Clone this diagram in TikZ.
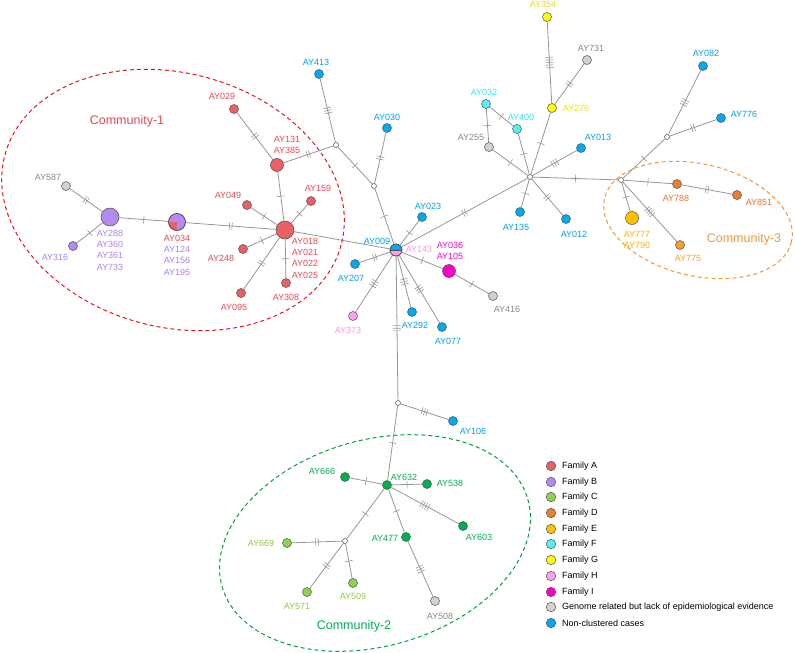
\documentclass[tikz,border=0pt]{standalone}
\usepackage{fontspec}
\setmainfont{Liberation Sans}
\usetikzlibrary{decorations.markings,backgrounds}
\definecolor{cA}{RGB}{234,96,100}
\definecolor{cB}{RGB}{180,138,240}
\definecolor{cC}{RGB}{146,208,80}
\definecolor{cD}{RGB}{237,125,49}
\definecolor{cE}{RGB}{255,192,0}
\definecolor{cF}{RGB}{85,240,240}
\definecolor{cG}{RGB}{255,255,0}
\definecolor{cH}{RGB}{255,160,235}
\definecolor{cI}{RGB}{255,0,200}
\definecolor{cGr}{RGB}{210,210,210}
\definecolor{cBl}{RGB}{0,170,240}
\definecolor{cDG}{RGB}{0,176,80}
\definecolor{cAE}{RGB}{245,160,40}
\definecolor{lA}{RGB}{232,72,82}
\definecolor{lB}{RGB}{172,128,240}
\definecolor{lC}{RGB}{140,200,70}
\definecolor{lD}{RGB}{232,112,42}
\definecolor{lE}{RGB}{250,180,0}
\definecolor{lF}{RGB}{50,228,235}
\definecolor{lG}{RGB}{228,228,0}
\definecolor{lH}{RGB}{255,150,235}
\definecolor{lI}{RGB}{255,0,200}
\definecolor{lGr}{RGB}{135,135,135}
\definecolor{lBl}{RGB}{0,160,235}
\definecolor{lDG}{RGB}{0,176,80}
\definecolor{edc}{RGB}{150,150,150}
\definecolor{ndb}{RGB}{80,80,80}
\definecolor{comA}{RGB}{228,20,30}
\definecolor{comB}{RGB}{0,160,60}
\definecolor{comC}{RGB}{245,150,50}
\tikzset{
  nd/.style={circle, draw=ndb, line width=0.5pt, inner sep=0pt, minimum size=9pt},
  hid/.style={circle, draw=ndb, fill=white, line width=0.5pt, inner sep=0pt, minimum size=5pt},
  lb/.style={font=\fontsize{9}{11.3}\selectfont, inner sep=0pt, align=center},
  comlb/.style={font=\fontsize{12.5}{14}\selectfont, inner sep=0pt},
  ed/.style={draw=edc, line width=0.8pt},
  tk/.style={postaction={decorate, decoration={markings, mark=at position 0.5 with {\foreach \i in {1,...,#1}{\draw[edc, line width=0.6pt] ({(\i-(#1+1)/2)*2.6},-3.8) -- ({(\i-(#1+1)/2)*2.6},3.8);}}}}},
  comm/.style={dashed, line width=1pt, dash pattern=on 4pt off 3pt},
  lgc/.style={circle, draw=ndb, line width=0.5pt, inner sep=0pt, minimum size=9.5pt},
  lgt/.style={font=\fontsize{9}{10}\selectfont, inner sep=0pt, anchor=west}
}
\begin{document}
\begin{tikzpicture}[x=1pt,y=-1pt]
\useasboundingbox (0,0) rectangle (796,653);
% community ellipses
\coordinate (c1) at (173,200);
\coordinate (c2) at (375,543);
\coordinate (c3) at (698,220);
\draw[comm, comA, rotate around={-15:(c1)}] (c1) ellipse [x radius=174, y radius=127];
\draw[comm, comB, rotate around={16:(c2)}] (c2) ellipse [x radius=159, y radius=103];
\draw[comm, comC, rotate around={-13:(c3)}] (c3) ellipse [x radius=96, y radius=56];
\node[comlb, text=lA] (com1) at (127,121) {Community-1};
\node[comlb, text=lDG] (com2) at (354,626) {Community-2};
\node[comlb, text=comC] (com3) at (744,239) {Community-3};

% nodes: community 1
\node[nd,fill=cGr] (AY587) at (66,186) {};
\node[nd,fill=cB,minimum size=18pt] (AY288) at (110,217) {};
\node[nd,fill=cB] (AY316) at (73,246) {};
\node[nd,fill=cB,minimum size=17pt,path picture={\fill[cA] (path picture bounding box.center) rectangle (path picture bounding box.south west);}] (AY034) at (177,222) {};
\draw[ndb, line width=0.5pt] (AY034) circle (8.5pt);
\node[nd,fill=cA,minimum size=18pt] (AY018) at (285,230) {};
\node[nd,fill=cA,minimum size=13pt] (AY131) at (277,165) {};
\node[nd,fill=cA] (AY029) at (234,109) {};
\node[nd,fill=cA] (AY049) at (247,205) {};
\node[nd,fill=cA] (AY159) at (311,201) {};
\node[nd,fill=cA] (AY248) at (243,249) {};
\node[nd,fill=cA] (AY308) at (286,283) {};
\node[nd,fill=cA] (AY095) at (241,293) {};
% centre
\node[hid] (h1) at (336,145) {};
\node[hid] (h2) at (374,186) {};
\node[nd,fill=cBl] (AY413) at (319,74) {};
\node[nd,fill=cBl] (AY030) at (387,128) {};
\node[nd,fill=cH,minimum size=12pt,path picture={\fill[cBl] (path picture bounding box.north west) rectangle (path picture bounding box.east); \draw[ndb,line width=0.5pt] (path picture bounding box.west) -- (path picture bounding box.east);}] (AY009) at (396,250) {};
\draw[ndb, line width=0.5pt] (AY009) circle (6pt);
\node[nd,fill=cBl] (AY023) at (422,217) {};
\node[nd,fill=cI,minimum size=13pt] (AY036) at (449,271) {};
\node[nd,fill=cGr] (AY416) at (493,296) {};
\node[nd,fill=cBl] (AY292) at (412,312) {};
\node[nd,fill=cBl] (AY077) at (442,327) {};
\node[nd,fill=cBl] (AY207) at (355,264) {};
\node[nd,fill=cH] (AY373) at (353,316) {};
\node[hid] (h3) at (398,403) {};
\node[nd,fill=cBl] (AY106) at (453,421) {};
% community 2
\node[nd,fill=cDG] (AY632) at (387,485) {};
\node[nd,fill=cDG] (AY666) at (345,477) {};
\node[nd,fill=cDG] (AY538) at (427,484) {};
\node[nd,fill=cDG] (AY603) at (463,526) {};
\node[nd,fill=cDG] (AY477) at (406,537) {};
\node[nd,fill=cGr] (AY508) at (435,601) {};
\node[hid] (h4) at (345,541) {};
\node[nd,fill=cC] (AY669) at (287,543) {};
\node[nd,fill=cC] (AY571) at (307,592) {};
\node[nd,fill=cC] (AY509) at (353,583) {};
% right part
\node[hid] (h5) at (530,177) {};
\node[nd,fill=cGr] (AY255) at (489,147) {};
\node[nd,fill=cF] (AY032) at (486,104) {};
\node[nd,fill=cF] (AY400) at (517,129) {};
\node[nd,fill=cG] (AY276) at (552,108) {};
\node[nd,fill=cG] (AY354) at (547,17) {};
\node[nd,fill=cGr] (AY731) at (587,60) {};
\node[nd,fill=cBl] (AY013) at (581,148) {};
\node[nd,fill=cBl] (AY135) at (520,212) {};
\node[nd,fill=cBl] (AY012) at (566,219) {};
\node[hid] (h6) at (621,180) {};
\node[hid] (h7) at (667,137) {};
\node[nd,fill=cBl] (AY082) at (703,66) {};
\node[nd,fill=cBl] (AY776) at (721,118) {};
\node[nd,fill=cD] (AY788) at (677,184) {};
\node[nd,fill=cD] (AY851) at (737,195) {};
\node[nd,fill=cE,minimum size=13pt] (AY777) at (632,218) {};
\node[nd,fill=cAE] (AY775) at (680,245) {};

% edges
\begin{scope}[on background layer]
\draw[ed,tk=2] (AY587) -- (AY288);
\draw[ed,tk=1] (AY316) -- (AY288);
\draw[ed,tk=1] (AY288) -- (AY034);
\draw[ed,tk=2] (AY034) -- (AY018);
\draw[ed,tk=1] (AY018) -- (AY049);
\draw[ed,tk=1] (AY018) -- (AY159);
\draw[ed,tk=1] (AY018) -- (AY248);
\draw[ed,tk=1] (AY018) -- (AY308);
\draw[ed,tk=2] (AY018) -- (AY095);
\draw[ed,tk=1] (AY018) -- (AY131);
\draw[ed,tk=2] (AY131) -- (AY029);
\draw[ed,tk=2] (AY131) -- (h1);
\draw[ed,tk=3] (h1) -- (AY413);
\draw[ed,tk=1] (h1) -- (h2);
\draw[ed,tk=2] (h2) -- (AY030);
\draw[ed,tk=1] (h2) -- (AY009);
\draw[ed] (AY018) -- (AY009);
\draw[ed,tk=1] (AY009) -- (AY023);
\draw[ed,tk=2] (AY009) -- (AY207);
\draw[ed,tk=3] (AY009) -- (AY373);
\draw[ed,tk=3] (AY009) -- (AY292);
\draw[ed,tk=3] (AY009) -- (AY077);
\draw[ed,tk=1] (AY009) -- (AY036);
\draw[ed,tk=1] (AY036) -- (AY416);
\draw[ed,tk=2] (AY009) -- (h5);
\draw[ed,tk=3] (AY009) -- (h3);
\draw[ed,tk=3] (h3) -- (AY106);
\draw[ed,tk=1] (h3) -- (AY632);
\draw[ed,tk=1] (AY632) -- (AY666);
\draw[ed,tk=1] (AY632) -- (AY538);
\draw[ed,tk=4] (AY632) -- (AY603);
\draw[ed,tk=1] (AY632) -- (AY477);
\draw[ed,tk=3] (AY477) -- (AY508);
\draw[ed,tk=1] (AY632) -- (h4);
\draw[ed,tk=2] (h4) -- (AY669);
\draw[ed,tk=2] (h4) -- (AY571);
\draw[ed,tk=1] (h4) -- (AY509);
\draw[ed,tk=1] (h5) -- (AY255);
\draw[ed,tk=1] (AY255) -- (AY032);
\draw[ed,tk=1] (AY032) -- (AY400);
\draw[ed,tk=1] (AY400) -- (h5);
\draw[ed,tk=1] (h5) -- (AY276);
\draw[ed,tk=5] (AY276) -- (AY354);
\draw[ed,tk=2] (AY276) -- (AY731);
\draw[ed,tk=3] (h5) -- (AY013);
\draw[ed,tk=1] (h5) -- (AY135);
\draw[ed,tk=2] (h5) -- (AY012);
\draw[ed,tk=1] (h5) -- (h6);
\draw[ed,tk=1] (h6) -- (h7);
\draw[ed,tk=3] (h7) -- (AY082);
\draw[ed,tk=2] (h7) -- (AY776);
\draw[ed,tk=1] (h6) -- (AY788);
\draw[ed,tk=2] (AY788) -- (AY851);
\draw[ed,tk=1] (h6) -- (AY777);
\draw[ed,tk=4] (h6) -- (AY775);
\end{scope}

% labels
\node[lb,text=lGr] (l587) at (48,177) {AY587};
\node[lb,text=lB] (l288) at (110,250) {AY288\\AY360\\AY361\\AY733};
\node[lb,text=lB] (l316) at (55,257) {AY316};
\node[lb,text=lB] (l034) at (177,255) {\textcolor{lA}{AY034}\\AY124\\AY156\\AY195};
\node[lb,text=lA] (l018) at (305,258) {AY018\\AY021\\AY022\\AY025};
\node[lb,text=lA] (l131) at (287,145) {AY131\\AY385};
\node[lb,text=lA] (l029) at (222,96) {AY029};
\node[lb,text=lA] (l049) at (228,195) {AY049};
\node[lb,text=lA] (l159) at (318,188) {AY159};
\node[lb,text=lA] (l248) at (221,258) {AY248};
\node[lb,text=lA] (l308) at (286,297) {AY308};
\node[lb,text=lA] (l095) at (234,307) {AY095};
\node[lb,text=lBl] (l413) at (316,62) {AY413};
\node[lb,text=lBl] (l030) at (387,117) {AY030};
\node[lb,text=lBl] (l009) at (377,241) {AY009};
\node[lb,text=lH] (l143) at (419,249) {AY143};
\node[lb,text=lBl] (l023) at (428,206) {AY023};
\node[lb,text=lI] (l036) at (450,251) {AY036\\AY105};
\node[lb,text=lGr] (l416) at (507,309) {AY416};
\node[lb,text=lBl] (l292) at (415,325) {AY292};
\node[lb,text=lBl] (l077) at (448,341) {AY077};
\node[lb,text=lBl] (l207) at (351,278) {AY207};
\node[lb,text=lH] (l373) at (348,330) {AY373};
\node[lb,text=lBl] (l106) at (473,431) {AY106};
\node[lb,text=lDG] (l632) at (404,477) {AY632};
\node[lb,text=lDG] (l666) at (322,471) {AY666};
\node[lb,text=lDG] (l538) at (450,483) {AY538};
\node[lb,text=lDG] (l603) at (479,537) {AY603};
\node[lb,text=lDG] (l477) at (385,538) {AY477};
\node[lb,text=lGr] (l508) at (440,616) {AY508};
\node[lb,text=lC] (l669) at (261,543) {AY669};
\node[lb,text=lC] (l571) at (297,606) {AY571};
\node[lb,text=lC] (l509) at (353,596) {AY509};
\node[lb,text=lGr] (l255) at (471,137) {AY255};
\node[lb,text=lF] (l032) at (484,92) {AY032};
\node[lb,text=lF] (l400) at (521,117) {AY400};
\node[lb,text=lG] (l276) at (576,108) {AY276};
\node[lb,text=lG] (l354) at (543,4) {AY354};
\node[lb,text=lGr] (l731) at (591,48) {AY731};
\node[lb,text=lBl] (l013) at (598,137) {AY013};
\node[lb,text=lBl] (l135) at (516,227) {AY135};
\node[lb,text=lBl] (l012) at (574,234) {AY012};
\node[lb,text=lBl] (l082) at (706,53) {AY082};
\node[lb,text=lBl] (l776) at (744,114) {AY776};
\node[lb,text=lD] (l788) at (676,198) {AY788};
\node[lb,text=lD] (l851) at (759,202) {AY851};
\node[lb,text=lE] (l777) at (637,240) {AY777\\AY790};
\node[lb,text=cAE] (l775) at (688,258) {AY775};

% legend
\node[lgc,fill=cA] (g1) at (551,466) {};
\node[lgc,fill=cB] (g2) at (551,482) {};
\node[lgc,fill=cC] (g3) at (551,497) {};
\node[lgc,fill=cD] (g4) at (551,513) {};
\node[lgc,fill=cE] (g5) at (551,529) {};
\node[lgc,fill=cF] (g6) at (551,544) {};
\node[lgc,fill=cG] (g7) at (551,560) {};
\node[lgc,fill=cH] (g8) at (551,576) {};
\node[lgc,fill=cI] (g9) at (551,592) {};
\node[lgc,fill=cGr] (g10) at (551,607) {};
\node[lgc,fill=cBl] (g11) at (551,623) {};
\node[lgt] (t1) at (562,466) {Family A};
\node[lgt] (t2) at (562,482) {Family B};
\node[lgt] (t3) at (562,497) {Family C};
\node[lgt] (t4) at (562,513) {Family D};
\node[lgt] (t5) at (562,529) {Family E};
\node[lgt] (t6) at (562,544) {Family F};
\node[lgt] (t7) at (562,560) {Family G};
\node[lgt] (t8) at (562,576) {Family H};
\node[lgt] (t9) at (562,592) {Family I};
\node[lgt] (t10) at (562,607) {Genome related but lack of epidemiological evidence};
\node[lgt] (t11) at (562,623) {Non-clustered cases};
\end{tikzpicture}
\end{document}
